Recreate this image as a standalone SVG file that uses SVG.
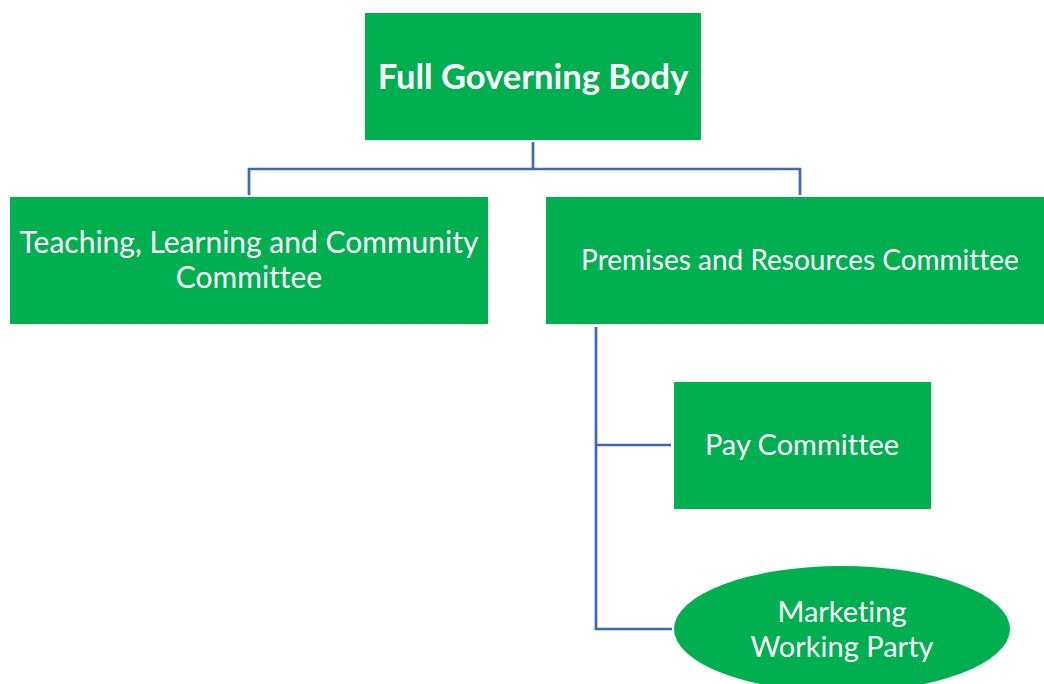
<svg xmlns="http://www.w3.org/2000/svg" width="1044" height="684" viewBox="0 0 1044 684">
<style>
.box{fill:#00B050;}
.t{fill:#fff;font-family:Lato,"Open Sans",sans-serif;font-size:29px;text-anchor:middle;font-variant-ligatures:none;font-feature-settings:"liga" 0,"dlig" 0;}
.b{font-weight:bold;font-size:34.5px;}
.c{fill:none;stroke:#4068B8;stroke-width:2.7;}
</style>
<rect width="1044" height="684" fill="#fff"/>
<g id="connectors">
<path class="c" d="M533 142V169M249 195V169H800V195"/>
<path class="c" d="M596 327V629H672M596 445H671"/>
</g>
<g id="fgb">
<rect class="box" x="365" y="13" width="336" height="127"/>
<text class="t b" x="533" y="89">Full Governing Body</text>
</g>
<g id="tlc">
<rect class="box" x="10" y="197" width="478" height="127"/>
<text class="t" x="249" y="253" style="font-size:30px">Teaching, Learning and Community</text>
<text class="t" x="249" y="288" style="font-size:30px">Committee</text>
</g>
<g id="pr">
<rect class="box" x="546" y="197" width="498" height="127"/>
<text class="t" x="800" y="270" style="font-size:28px">Premises and Resources Committee</text>
</g>
<g id="pay">
<rect class="box" x="674" y="382" width="257" height="127"/>
<text class="t" x="802" y="455">Pay Committee</text>
</g>
<g id="marketing">
<ellipse class="box" cx="842" cy="629" rx="168" ry="63"/>
<text class="t" x="842" y="622">Marketing</text>
<text class="t" x="842" y="657">Working Party</text>
</g>
</svg>
